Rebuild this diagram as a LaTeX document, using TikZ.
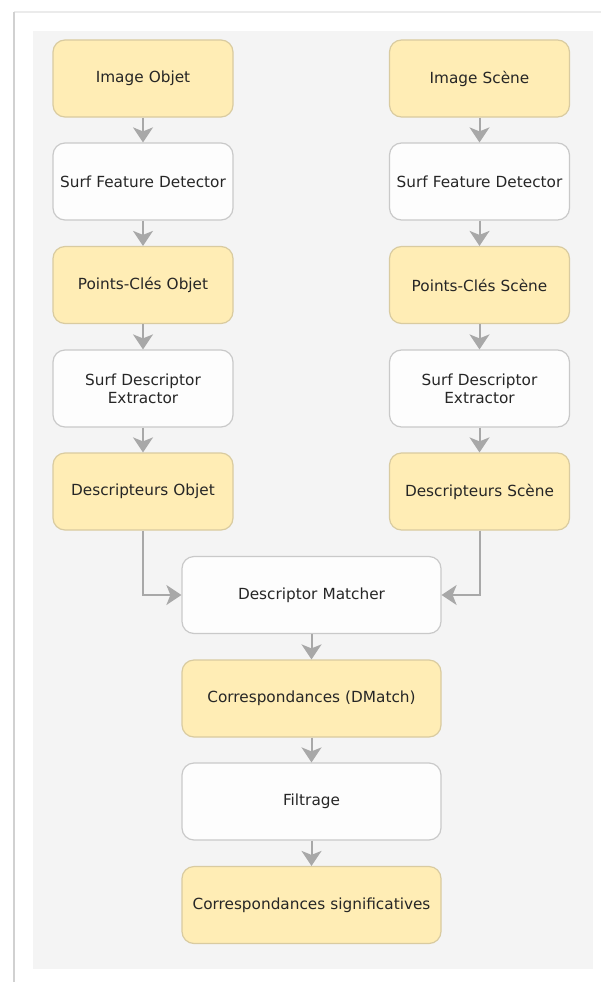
\documentclass[tikz,border=0pt]{standalone}
\usepackage{fontspec}
\setmainfont{DejaVu Sans}
\usetikzlibrary{arrows.meta}
\definecolor{panelbg}{HTML}{F4F4F4}
\definecolor{yellowfill}{HTML}{FFEDB5}
\definecolor{yellowline}{HTML}{D9CBA0}
\definecolor{whitefill}{HTML}{FDFDFD}
\definecolor{whiteline}{HTML}{C9C9C9}
\definecolor{arrowgray}{HTML}{A8A8A8}
\definecolor{textgray}{HTML}{262626}
\tikzset{
  box/.style={rounded corners=12pt, line width=1.2pt, minimum height=77pt,
    align=center, inner sep=2pt, text=textgray,
    font=\fontsize{15.3}{18}\selectfont},
  databox/.style={box, fill=yellowfill, draw=yellowline},
  procbox/.style={box, fill=whitefill, draw=whiteline},
  narrow/.style={minimum width=180pt, text width=176pt},
  wide/.style={minimum width=259pt, text width=250pt},
  flow/.style={draw=arrowgray, line width=2pt,
    -{Stealth[length=15pt, width=20pt, inset=4pt]}},
}
\begin{document}
\begin{tikzpicture}[x=1pt, y=-1pt]
  \useasboundingbox (0,0) rectangle (601,982);
  \fill[white] (0,0) rectangle (601,982);
  % outer frame edges
  \draw[color=black!8, line width=1.5pt] (14,12) -- (601,12);
  \draw[color=black!18, line width=2.5pt] (14,12) -- (14,982);
  % canvas
  \fill[panelbg] (33,31) rectangle (593,969);

  % left column
  \node[databox, narrow] (imgO) at (143,78.5) {Image Objet};
  \node[procbox, narrow] (detO) at (143,181.5) {Surf Feature Detector};
  \node[databox, narrow] (kpO)  at (143,285) {Points-Clés Objet};
  \node[procbox, narrow] (extO) at (143,388.5) {Surf Descriptor\\Extractor};
  \node[databox, narrow] (desO) at (143,491.5) {Descripteurs Objet};

  % right column
  \node[databox, narrow] (imgS) at (479.5,78.5) {Image Scène};
  \node[procbox, narrow] (detS) at (479.5,181.5) {Surf Feature Detector};
  \node[databox, narrow] (kpS)  at (479.5,285) {Points-Clés Scène};
  \node[procbox, narrow] (extS) at (479.5,388.5) {Surf Descriptor\\Extractor};
  \node[databox, narrow] (desS) at (479.5,491.5) {Descripteurs Scène};

  % centre column
  \node[procbox, wide] (match) at (311.5,595) {Descriptor Matcher};
  \node[databox, wide] (dm)    at (311.5,698.5) {Correspondances (DMatch)};
  \node[procbox, wide] (filt)  at (311.5,801.5) {Filtrage};
  \node[databox, wide] (sig)   at (311.5,905) {Correspondances significatives};

  % connectors
  \draw[flow] (imgO) -- (detO);
  \draw[flow] (detO) -- (kpO);
  \draw[flow] (kpO) -- (extO);
  \draw[flow] (extO) -- (desO);
  \draw[flow] (imgS) -- (detS);
  \draw[flow] (detS) -- (kpS);
  \draw[flow] (kpS) -- (extS);
  \draw[flow] (extS) -- (desS);
  \draw[flow] (desO.south) |- (match.west);
  \draw[flow] (desS.south) |- (match.east);
  \draw[flow] (match) -- (dm);
  \draw[flow] (dm) -- (filt);
  \draw[flow] (filt) -- (sig);
\end{tikzpicture}
\end{document}
